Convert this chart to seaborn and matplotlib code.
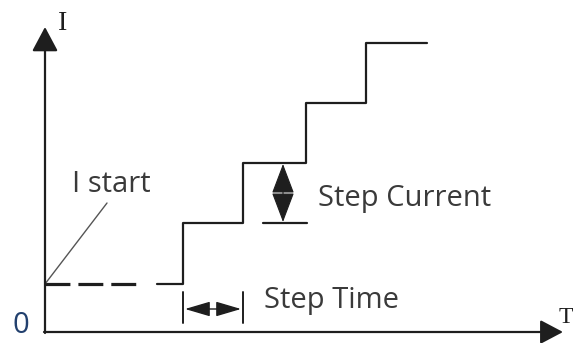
#!/usr/bin/env python3
"""Step current diagram: current rises in equal steps after a start level."""

import matplotlib as mpl
import matplotlib.pyplot as plt
import pandas as pd
import seaborn as sns

mpl.use("Agg")
sns.set_theme(style="white")
plt.rcParams["font.family"] = ["Open Sans", "DejaVu Sans"]

# Diagram values (canvas units, y grows downwards)
ORIGIN = (45, 332)
AXIS_END = (563, 27)
START_LEVEL = 284
START_DASH_X = [45, 137]
STEP_X = [157, 183, 243, 306, 366, 427]
STEP_Y = [284, 223, 163, 103, 43, 43]
CURRENT_ARROW_X = 283
TIME_ARROW_Y = 309
TIME_TICK_Y = [292, 323]
LEADER_END = (107, 203)

INK = "#1e1e1e"
TEXT = "#3a3a3a"


def arrow(ax, start, end, style, scale=20, lw=1.6):
    ax.annotate("", xy=end, xytext=start,
                arrowprops=dict(arrowstyle=style, color=INK, lw=lw,
                                shrinkA=0, shrinkB=0, mutation_scale=scale))


def main():
    fig = plt.figure(figsize=(5.73, 3.43), dpi=100)
    ax = fig.add_axes([0, 0, 1, 1])
    ax.set_xlim(0, 573)
    ax.set_ylim(343, 0)
    ax.axis("off")

    # Axes with arrow heads
    arrow(ax, (ORIGIN[0], ORIGIN[1] + 1), (ORIGIN[0], AXIS_END[1]),
          "-|>,head_length=0.75,head_width=0.4")
    arrow(ax, (ORIGIN[0] - 1, ORIGIN[1]), (AXIS_END[0], ORIGIN[1]),
          "-|>,head_length=0.7,head_width=0.37")

    # Dashed start level and staircase
    dash = pd.DataFrame({"t": START_DASH_X, "i": [START_LEVEL] * 2})
    sns.lineplot(data=dash, x="t", y="i", ax=ax, color=INK, lw=2.3,
                 dashes=False, linestyle=(0, (7.8, 2.5)))
    steps = pd.DataFrame({"t": STEP_X, "i": STEP_Y})
    sns.lineplot(data=steps, x="t", y="i", ax=ax, color=INK, lw=1.6,
                 drawstyle="steps-post", estimator=None, sort=False)

    # Step current marker
    ax.plot([263, 307], [STEP_Y[1], STEP_Y[1]], color=INK, lw=1.6)
    arrow(ax, (CURRENT_ARROW_X, STEP_Y[1] - 1), (CURRENT_ARROW_X, STEP_Y[2] + 1),
          "<|-|>,head_length=0.95,head_width=0.36", lw=0.8)

    # Step time marker
    for x in STEP_X[1:3]:
        ax.plot([x, x], TIME_TICK_Y, color=INK, lw=1.4)
    arrow(ax, (STEP_X[1] + 2, TIME_ARROW_Y), (STEP_X[2] - 2, TIME_ARROW_Y),
          "<|-|>,head_length=0.78,head_width=0.23", lw=1.0)

    # I start leader
    ax.plot([ORIGIN[0], LEADER_END[0]], [START_LEVEL, LEADER_END[1]],
            color="#555555", lw=1.0)

    fs = 21
    ax.text(72, 192, "I start", fontsize=fs, color=TEXT, va="baseline")
    ax.text(318, 206, "Step Current", fontsize=fs, color=TEXT, va="baseline")
    ax.text(264, 308, "Step Time", fontsize=fs, color=TEXT, va="baseline")
    ax.text(12, 333, "0", fontsize=fs, color="#22406e", va="baseline")
    ax.text(58, 30, "I", fontsize=20, color=INK, va="baseline",
            family=["Liberation Serif", "DejaVu Serif"])
    ax.text(559, 323, "T", fontsize=17, color=INK, va="baseline",
            family=["Liberation Serif", "DejaVu Serif"])

    fig.savefig("out.png", dpi=100)


if __name__ == "__main__":
    main()
